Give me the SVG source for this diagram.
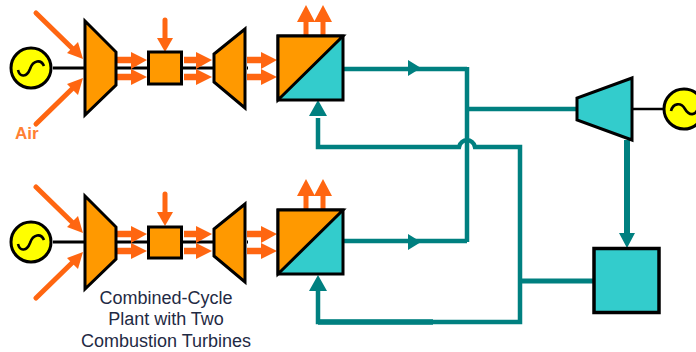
<svg xmlns="http://www.w3.org/2000/svg" width="696" height="352" viewBox="0 0 696 352">
<style>
.k{stroke:#000;stroke-width:3;stroke-linejoin:miter}
.o{fill:#ff9900}
.c{fill:#33cccc}
.y{fill:#ffff00}
.s{fill:none;stroke:#000;stroke-width:2.6}
.a{fill:none;stroke:#ff6611;stroke-width:5;stroke-linecap:round}
.af{fill:#ff6611}
.t{fill:none;stroke:#008080;stroke-width:4.5;stroke-linejoin:miter}
.tf{fill:#008080}
.sh{stroke:#000;stroke-width:3;fill:none}
.lb{font-family:"Liberation Sans",Arial,sans-serif;font-size:18px;fill:#1f2a44;text-anchor:middle}
.air{font-family:"Liberation Sans",Arial,sans-serif;font-size:17px;font-weight:bold;fill:#ff8033}
</style>
<defs>
<g id="flow">
<path d="M117 60H134M117 77H134M184 60H201M184 77H201M247 60H264M247 77H264" fill="none" stroke="#ff6611" stroke-width="6.500"/>
<path d="M131 52L147 60L131 69ZM131 69L147 77L131 85ZM196 52L212 60L196 69ZM196 69L212 77L196 85ZM261 52L277 60L261 69ZM261 69L277 77L261 85Z" class="af"/>
</g>
<g id="train">
<path d="M36 13L76 52M36 124L76 85" class="a"/>
<path d="M83 59L67 53L78 42ZM83 78L67 84L78 95Z" class="af"/>
<path d="M53 68H84M117 68H148M182 68H213M247 68H248" class="sh"/>
<path d="M165 20V44" class="a"/>
<path d="M165 52L157 38H173Z" class="af"/>
<path d="M306 36V22M323 36V22" fill="none" stroke="#ff6611" stroke-width="5"/>
<path d="M306 5L297 22H315ZM323 5L314 22H332Z" class="af"/>
<use href="#flow"/>
</g>
</defs>
<g id="connectors">
<path d="M344 69H467M344 241H467M467 67V242M467 109H576" class="t"/>
<path d="M420 69H467M420 241H467" fill="none" stroke="#008080" stroke-width="4"/>
<path d="M408 60L421 68L408 76ZM408 234L421 242L408 250Z" class="tf"/>
<path d="M318 118V147H459C461 138 473 138 475 147H520V322H318V290" class="t"/>
<path d="M318 322H433" fill="none" stroke="#008080" stroke-width="5.500"/>
<path d="M318 100L309 116H327ZM318 275L309 291H327Z" class="tf"/>
<path d="M522 281H594" fill="none" stroke="#008080" stroke-width="5"/>
<path d="M627 140V235" fill="none" stroke="#008080" stroke-width="6"/>
<path d="M619 233L627 248L635 233Z" class="tf"/>
<path d="M632 109H664" fill="none" stroke="#000" stroke-width="2.500"/>
</g>
<g id="train-1-flows"><use href="#train"/></g>
<g id="train-2-flows"><use href="#train" y="174"/></g>
<g id="generator-1"><circle cx="31" cy="68" r="20" class="y k"/><path d="M18 70C20 78 27 77 30 69C33 60 41 59 44 66" class="s"/></g>
<g id="compressor-1"><path d="M85 21L116 52V85L85 115Z" class="o k"/></g>
<g id="combustor-1"><rect x="148.500" y="52" width="33" height="32" class="o k"/></g>
<g id="turbine-1"><path d="M245 29L214 54V82L245 108Z" class="o k"/></g>
<g id="hrsg-1"><rect x="278" y="36" width="65" height="64" class="c k"/><path d="M278 100V36H343Z" class="o k"/></g>
<g id="generator-2"><circle cx="31" cy="242" r="20" class="y k"/><path d="M18 244C20 252 27 251 30 243C33 234 41 233 44 240" class="s"/></g>
<g id="compressor-2"><path d="M85 196L116 227V259L85 289Z" class="o k"/></g>
<g id="combustor-2"><rect x="148.500" y="227" width="33" height="31" class="o k"/></g>
<g id="turbine-2"><path d="M245 204L214 229V256L245 282Z" class="o k"/></g>
<g id="hrsg-2"><rect x="278" y="210" width="65" height="64" class="c k"/><path d="M278 274V210H343Z" class="o k"/></g>
<g id="steam-turbine"><path d="M632 78L577 98V120L632 140Z" class="c k"/></g>
<g id="generator-3"><circle cx="684" cy="109" r="20" class="y k"/><path d="M671 111C673 103 681 102 685 109C689 116 696 116 698 108" class="s"/></g>
<g id="condenser"><rect x="594" y="248.500" width="65" height="64" class="c" stroke="#000" stroke-width="3.500"/></g>
<text x="15" y="139" class="air">Air</text>
<g class="lb"><text x="166" y="304">Combined-Cycle</text><text x="166" y="325">Plant with Two</text><text x="166" y="347">Combustion Turbines</text></g>
</svg>
